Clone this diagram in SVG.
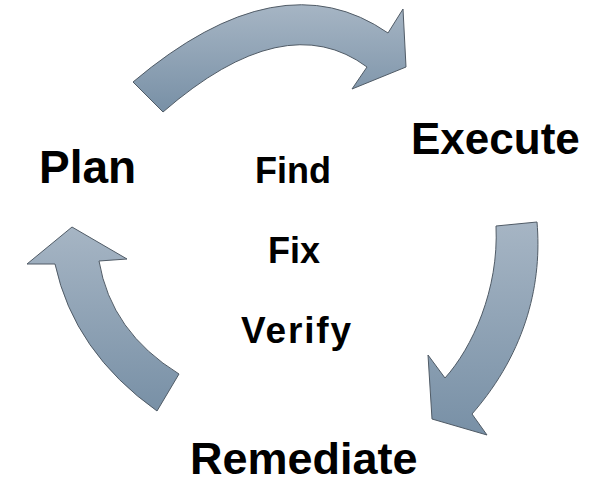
<svg xmlns="http://www.w3.org/2000/svg" width="600" height="483" viewBox="0 0 600 483">
  <defs>
    <linearGradient id="arrowGrad" x1="0" y1="0" x2="0" y2="1">
      <stop offset="0" stop-color="#a6b5c4"/>
      <stop offset="1" stop-color="#7890a6"/>
    </linearGradient>
  </defs>
  <style>
    .arrow { fill: url(#arrowGrad); stroke: #505b66; stroke-width: 1; stroke-linejoin: miter; }
    .big { font-family: "Liberation Sans", Arial, sans-serif; font-weight: bold; font-size: 44px; fill: #000; }
    .small { font-family: "Liberation Sans", Arial, sans-serif; font-weight: bold; font-size: 36px; fill: #000; text-anchor: middle; }
  </style>
  <rect width="600" height="483" fill="#ffffff"/>
  <g id="connectors">
    <path id="arrow-plan-execute" class="arrow" d="M133,82 Q280,-42 388,33 L403,9 L406,67 L352,89 L367,67 Q285,6 163,112 Z"/>
    <path id="arrow-execute-remediate" class="arrow" d="M537,222 C542,280 528,350 472,414 L487,435 L432,419 L428,355 L445,378 C472,348 499,290 496,226 Z"/>
    <path id="arrow-remediate-plan" class="arrow" d="M72,227 L127,259 L99,261 Q111,332 179,374 L157,411 Q74,352 55,264 L27,264 Z"/>
  </g>
  <g id="node-plan"><text class="big" x="39" y="183" style="font-size:46px">Plan</text></g>
  <g id="node-execute"><text class="big" x="411" y="154">Execute</text></g>
  <g id="node-remediate"><text class="big" x="190" y="474" style="font-size:45px">Remediate</text></g>
  <g id="node-find"><text class="small" x="293" y="183">Find</text></g>
  <g id="node-fix"><text class="small" x="294" y="263">Fix</text></g>
  <g id="node-verify"><text class="small" x="296" y="343" style="font-size:37px" textLength="110" lengthAdjust="spacing">Verify</text></g>
</svg>
